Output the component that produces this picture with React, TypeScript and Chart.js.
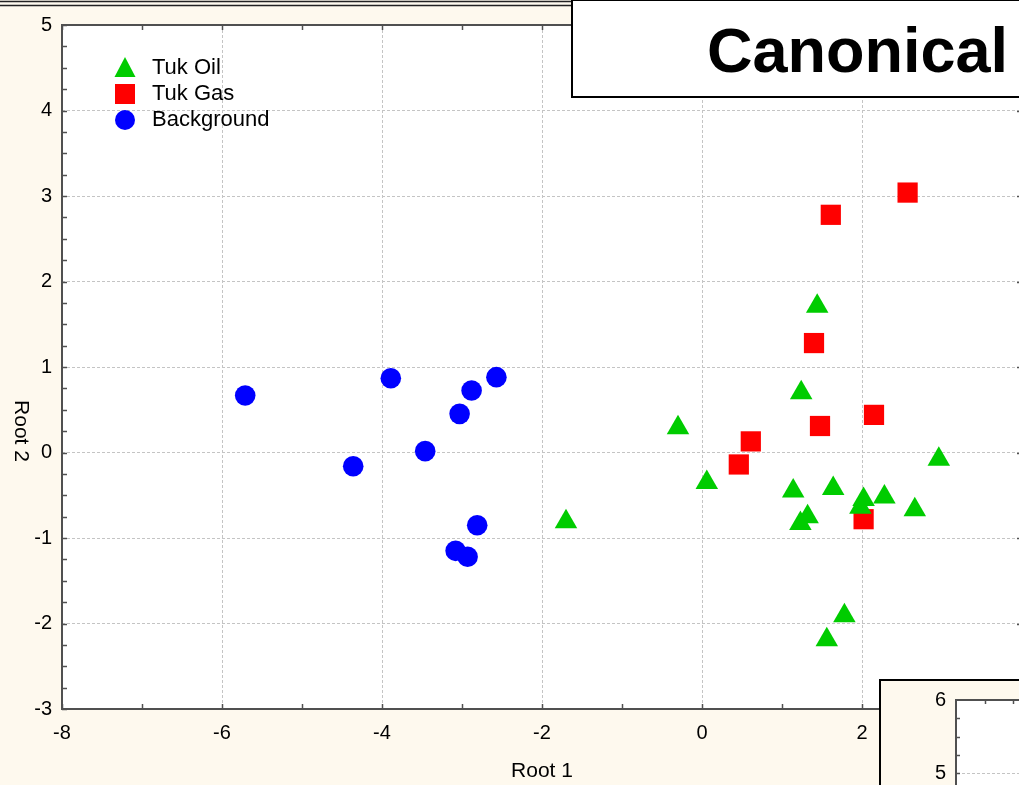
import React, { useEffect, useRef } from 'react';
import { Chart, registerables } from 'chart.js';

Chart.register(...registerables);

// ---- data ----
const oilX = [-1.70, -0.30, 0.06, 1.24, 1.44, 1.14, 1.64, 2.02, 1.98, 2.28, 2.66, 2.96, 1.32, 1.23, 1.78, 1.56];
const oilY = [-0.81, 0.29, -0.35, 0.70, 1.71, -0.45, -0.42, -0.55, -0.64, -0.52, -0.67, -0.08, -0.75, -0.83, -1.91, -2.19];

const gasX = [2.57, 1.61, 1.40, 2.15, 1.475, 0.61, 0.46, 2.02];
const gasY = [3.04, 2.78, 1.28, 0.44, 0.31, 0.13, -0.14, -0.78];

const bgX = [-5.71, -3.89, -2.57, -2.88, -3.03, -3.46, -4.36, -2.81, -3.08, -2.93];
const bgY = [0.667, 0.869, 0.881, 0.725, 0.452, 0.016, -0.16, -0.85, -1.15, -1.22];

const seriesNames = ['Tuk Oil', 'Tuk Gas', 'Background'];
const seriesColors = ['#00cc00', '#ff0000', '#0000ff'];
const xTicks = [-8, -6, -4, -2, 0, 2, 4];
const yTicks = [-3, -2, -1, 0, 1, 2, 3, 4, 5];
const xTitle = 'Root 1';
const yTitle = 'Root 2';
const titleText = 'Canonical';
const insetTickLabels = ['6', '5'];

const FONT = '"Liberation Sans", Arial, Helvetica, sans-serif';
const CREAM = '#fef9ee';
const AXIS = '#505050';

const toPoints = (xs: number[], ys: number[]) => xs.map((v, i) => ({ x: v, y: ys[i] }));

const decoPlugin = {
  id: 'deco',
  beforeDraw(chart: any) {
    const { ctx, chartArea: a, width, height } = chart;
    ctx.save();
    ctx.fillStyle = CREAM;
    ctx.fillRect(0, 0, width, height);
    ctx.fillStyle = '#ffffff';
    ctx.fillRect(a.left, a.top, a.right - a.left, a.bottom - a.top);
    ctx.restore();
  },
  afterDraw(chart: any) {
    const { ctx, chartArea: a } = chart;
    const xs = chart.scales.x;
    const ys = chart.scales.y;
    const line = (x1: number, y1: number, x2: number, y2: number) => {
      ctx.beginPath();
      ctx.moveTo(x1, y1);
      ctx.lineTo(x2, y2);
      ctx.stroke();
    };
    ctx.save();

    // window double line at the very top
    ctx.strokeStyle = '#222';
    ctx.lineWidth = 1.5;
    line(0, 1.5, 572, 1.5);
    line(0, 5.5, 572, 5.5);

    // plot frame
    ctx.strokeStyle = AXIS;
    ctx.lineWidth = 2;
    ctx.strokeRect(a.left, a.top, a.right - a.left, a.bottom - a.top);

    // ticks
    ctx.lineWidth = 1.5;
    for (let v = -3; v <= 5.001; v += 0.25) {
      const py = Math.round(ys.getPixelForValue(v)) + 0.5;
      line(a.left, py, a.left + 5, py);
    }
    yTicks.forEach((v) => {
      const py = Math.round(ys.getPixelForValue(v)) + 0.5;
      line(a.right - 5, py, a.right, py);
    });
    for (let v = -8; v <= 4; v += 1) {
      const px = Math.round(xs.getPixelForValue(v)) + 0.5;
      line(px, a.top, px, a.top + 5);
      line(px, a.bottom, px, a.bottom - 5);
    }

    // tick labels
    ctx.fillStyle = '#000';
    ctx.font = `20px ${FONT}`;
    ctx.textAlign = 'right';
    ctx.textBaseline = 'middle';
    yTicks.forEach((v) => {
      ctx.fillText(String(v), a.left - 10, ys.getPixelForValue(v));
    });
    ctx.textAlign = 'center';
    xTicks.forEach((v) => {
      ctx.fillText(String(v), xs.getPixelForValue(v), a.bottom + 24);
    });

    // axis titles
    ctx.font = `21px ${FONT}`;
    ctx.fillText(xTitle, (a.left + a.right) / 2, 771);
    ctx.save();
    ctx.translate(21, 431);
    ctx.rotate(Math.PI / 2);
    ctx.fillText(yTitle, 0, 0);
    ctx.restore();

    // legend
    ctx.font = `22px ${FONT}`;
    ctx.textAlign = 'left';
    ctx.fillStyle = seriesColors[0];
    ctx.beginPath();
    ctx.moveTo(125, 57);
    ctx.lineTo(135.5, 77);
    ctx.lineTo(114.5, 77);
    ctx.closePath();
    ctx.fill();
    ctx.fillStyle = seriesColors[1];
    ctx.fillRect(115, 84, 20, 20);
    ctx.fillStyle = seriesColors[2];
    ctx.beginPath();
    ctx.arc(125, 120, 10, 0, Math.PI * 2);
    ctx.fill();
    ctx.fillStyle = '#000';
    ctx.fillText(seriesNames[0], 152, 68);
    ctx.fillText(seriesNames[1], 152, 94);
    ctx.fillText(seriesNames[2], 152, 120);

    // title box
    ctx.fillStyle = '#ffffff';
    ctx.fillRect(572, -2, 470, 99);
    ctx.strokeStyle = '#000';
    ctx.lineWidth = 2;
    ctx.strokeRect(572, 0, 470, 97);
    ctx.fillStyle = '#000';
    ctx.font = `bold 63px ${FONT}`;
    ctx.textAlign = 'left';
    ctx.textBaseline = 'alphabetic';
    ctx.fillText(titleText, 707, 72);

    // inset window (bottom right)
    ctx.fillStyle = CREAM;
    ctx.fillRect(880, 680, 200, 200);
    ctx.strokeStyle = '#000';
    ctx.lineWidth = 2;
    ctx.strokeRect(880, 680, 200, 200);
    ctx.fillStyle = '#ffffff';
    ctx.fillRect(956, 700, 120, 120);
    ctx.strokeStyle = '#c4c4c4';
    ctx.lineWidth = 1;
    ctx.setLineDash([3, 2]);
    line(957, 773.5, 1040, 773.5);
    ctx.setLineDash([]);
    ctx.strokeStyle = AXIS;
    ctx.lineWidth = 2;
    line(956, 700, 1040, 700);
    line(956, 699, 956, 790);
    ctx.lineWidth = 1.5;
    for (let k = 1; k <= 4; k++) {
      const py = Math.round(700 + k * 18.25) + 0.5;
      line(956, py, 960, py);
    }
    line(985.5, 700, 985.5, 704);
    line(1013.5, 700, 1013.5, 704);
    ctx.fillStyle = '#000';
    ctx.font = `20px ${FONT}`;
    ctx.textAlign = 'right';
    ctx.textBaseline = 'middle';
    ctx.fillText(insetTickLabels[0], 946, 700);
    ctx.fillText(insetTickLabels[1], 946, 773);

    ctx.restore();
  },
};

export default function App() {
  const canvasRef = useRef<HTMLCanvasElement | null>(null);

  useEffect(() => {
    const canvas = canvasRef.current;
    if (!canvas) return;
    const chart = new Chart(canvas, {
      type: 'scatter',
      data: {
        datasets: [
          {
            label: seriesNames[0],
            data: toPoints(oilX, oilY),
            pointStyle: 'triangle',
            pointRadius: 13,
            backgroundColor: seriesColors[0],
            borderWidth: 0,
            pointBorderWidth: 0,
          },
          {
            label: seriesNames[1],
            data: toPoints(gasX, gasY),
            pointStyle: 'rect',
            pointRadius: 14.3,
            backgroundColor: seriesColors[1],
            borderWidth: 0,
            pointBorderWidth: 0,
          },
          {
            label: seriesNames[2],
            data: toPoints(bgX, bgY),
            pointStyle: 'circle',
            pointRadius: 10.3,
            backgroundColor: seriesColors[2],
            borderWidth: 0,
            pointBorderWidth: 0,
          },
        ],
      },
      options: {
        responsive: false,
        animation: false,
        devicePixelRatio: 1,
        events: [],
        layout: { autoPadding: false, padding: { left: 62, top: 25, right: 8, bottom: 76 } },
        plugins: {
          legend: { display: false },
          tooltip: { enabled: false },
          title: { display: false },
        },
        scales: {
          x: {
            type: 'linear',
            min: -8,
            max: 4,
            afterBuildTicks: (s: any) => {
              s.ticks = xTicks.map((v) => ({ value: v }));
            },
            ticks: { display: false },
            grid: { color: '#c4c4c4', lineWidth: 1, drawTicks: false },
            border: { display: false, dash: [3, 2] },
          },
          y: {
            type: 'linear',
            min: -3,
            max: 5,
            afterBuildTicks: (s: any) => {
              s.ticks = yTicks.map((v) => ({ value: v }));
            },
            ticks: { display: false },
            grid: { color: '#c4c4c4', lineWidth: 1, drawTicks: false },
            border: { display: false, dash: [3, 2] },
          },
        },
      },
      plugins: [decoPlugin],
    } as any);
    return () => chart.destroy();
  }, []);

  return (
    <div
      style={{
        position: 'fixed',
        left: 0,
        top: 0,
        width: 1019,
        height: 785,
        overflow: 'hidden',
        background: CREAM,
      }}
    >
      <canvas ref={canvasRef} width={1030} height={785} style={{ display: 'block' }} />
    </div>
  );
}
